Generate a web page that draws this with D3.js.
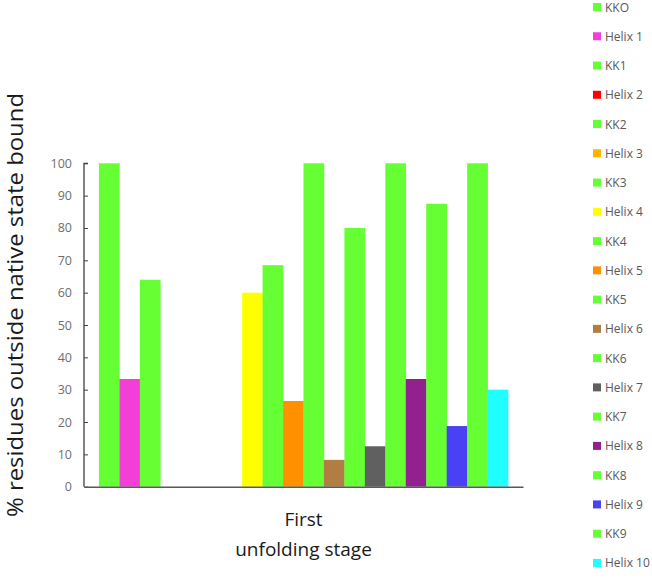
<!DOCTYPE html>
<html>
<head>
<meta charset="utf-8">
<script src="https://cdn.jsdelivr.net/npm/d3@7"></script>
<style>
  body { margin: 0; background: #fff; }
  text { font-family: "Open Sans", "Liberation Sans", sans-serif; }
</style>
</head>
<body>
<svg id="chart" width="652" height="578"></svg>
<script>
const categories = ["First unfolding stage"];
const seriesNames = ["KKO","Helix 1","KK1","Helix 2","KK2","Helix 3","KK3","Helix 4","KK4","Helix 5",
                     "KK5","Helix 6","KK6","Helix 7","KK7","Helix 8","KK8","Helix 9","KK9","Helix 10"];
const seriesValues = [100, 33.3, 64, 0, 0, 0, 0, 60, 68.5, 26.5,
                      100, 8.3, 80, 12.5, 100, 33.3, 87.5, 18.75, 100, 30];
const seriesColors = ["#66ff33","#f33fd8","#66ff33","#ff0000","#66ff33","#ffb400","#66ff33","#ffff00","#66ff33","#ff9100",
                      "#66ff33","#b07d43","#66ff33","#606060","#66ff33","#93208f","#66ff33","#4a41f5","#66ff33","#1fffff"];
const yTicks = [0,10,20,30,40,50,60,70,80,90,100];

const svg = d3.select("#chart");
const plot = {left: 84, right: 523, top: 163.3, bottom: 486.7};

const x0 = d3.scaleBand().domain(categories).range([plot.left, plot.right]).paddingInner(0).paddingOuter(0.0365);
const x1 = d3.scaleBand().domain(seriesNames).range([0, x0.bandwidth()]).padding(0);
const y = d3.scaleLinear().domain([0, 100]).range([plot.bottom, plot.top]);

// bars
const g = svg.append("g");
categories.forEach(cat => {
  g.selectAll("rect.bar")
    .data(seriesNames.map((s, i) => ({s, v: seriesValues[i], c: seriesColors[i]})))
    .enter().append("rect")
    .attr("x", d => x0(cat) + x1(d.s))
    .attr("y", d => y(d.v))
    .attr("width", x1.bandwidth() + 0.3)
    .attr("height", d => plot.bottom - y(d.v))
    .attr("fill", d => d.c);
});

// y axis
const yAxis = d3.axisRight(y).tickValues(yTicks).tickSize(4).tickFormat(d3.format("d"));
const ya = svg.append("g").attr("transform", `translate(${plot.left},0)`).call(yAxis);
ya.select(".domain").attr("stroke", "#404040").attr("stroke-width", 1.3).attr("d", `M4,${plot.top}H0V${plot.bottom}`);
ya.selectAll(".tick line").attr("stroke", "#404040").attr("stroke-width", 1);
ya.selectAll(".tick text")
  .attr("x", -12).attr("text-anchor", "end")
  .attr("fill", "#6e6e6e").style("font-size", "12.5px");

// x axis
const xAxis = d3.axisBottom(x0).tickSize(0).tickFormat("");
const xa = svg.append("g").attr("transform", `translate(0,${plot.bottom})`).call(xAxis);
xa.select(".domain").attr("stroke", "#595959").attr("stroke-width", 1.5);

// x category label (two lines)
const xc = x0(categories[0]) + x0.bandwidth() / 2;
const lbl = svg.append("text").attr("text-anchor", "middle").attr("fill", "#1a1a1a").style("font-size", "19px");
lbl.append("tspan").attr("x", xc).attr("y", 526).text("First");
lbl.append("tspan").attr("x", xc).attr("y", 556).text("unfolding stage");

// y title
svg.append("text")
  .attr("transform", `translate(23,${(92 + 518) / 2}) rotate(-90)`)
  .attr("text-anchor", "middle")
  .attr("fill", "#1a1a1a")
  .style("font-size", "21px")
  .attr("textLength", 424)
  .attr("lengthAdjust", "spacingAndGlyphs")
  .text("% residues outside native state bound");

// legend
const leg = svg.append("g");
const legItems = leg.selectAll("g").data(seriesNames.map((s, i) => ({s, c: seriesColors[i]})))
  .enter().append("g")
  .attr("transform", (d, i) => `translate(593,${7 + i * 29.26})`);
legItems.append("rect").attr("x", 0).attr("y", -4).attr("width", 8).attr("height", 8).attr("fill", d => d.c);
legItems.append("text").attr("x", 12).attr("y", 4.5).attr("fill", "#595959").style("font-size", "12px").text(d => d.s);
</script>
</body>
</html>
